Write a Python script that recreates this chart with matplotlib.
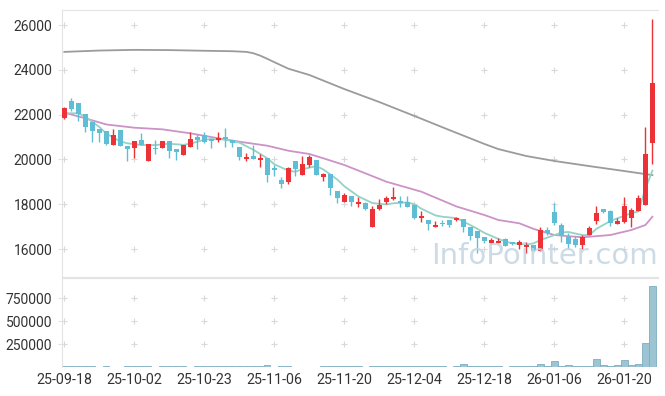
import numpy as np
import matplotlib
matplotlib.use('Agg')
import matplotlib.pyplot as plt

# Daily candles (open, high, low, close)
opens = [21860, 22620, 22520, 22010, 21670, 21360, 21270, 20660, 21310, 20600,
         20520, 20870, 19940, 20500, 20500, 20820, 20480, 20210, 20540, 21010,
         21090, 20900, 20880, 20990, 20850, 20550, 20000, 20150, 19990, 20050,
         19620, 19080, 18980, 19930, 19320, 19740, 19970, 19230, 19360, 18590,
         18110, 18370, 18000, 18050, 17000, 17800, 18110, 18250, 18140, 18110,
         17960, 17380, 17300, 16980, 17170, 17300, 17280, 17340, 17000, 16800,
         16550, 16250, 16280, 16430, 16330, 16170, 16100, 16180, 15920, 16850,
         17670, 17070, 16520, 16450, 16180, 16630, 17250, 17770, 17700, 17120,
         17220, 17370, 17710, 17980, 20720]
highs = [22330, 22750, 22520, 22010, 21670, 21360, 21270, 21340, 21310, 20600,
         20820, 21190, 20670, 20870, 20820, 20820, 20480, 20640, 21210, 21130,
         21210, 20900, 21240, 21420, 20880, 20550, 20270, 20640, 20230, 20050,
         19750, 19230, 19650, 19930, 20150, 20200, 19970, 19380, 19360, 18590,
         18510, 18370, 18310, 18100, 17930, 18230, 18380, 18770, 18380, 18380,
         17960, 17700, 17300, 17250, 17300, 17300, 17440, 17340, 17000, 16800,
         16550, 16500, 16500, 16500, 16330, 16400, 16330, 16180, 17000, 17000,
         18040, 17170, 16700, 16580, 16630, 17030, 17920, 17770, 17740, 17370,
         18340, 17820, 18410, 21460, 26250]
lows = [21800, 22160, 21710, 21240, 20790, 20790, 20640, 20640, 20600, 19940,
        20050, 20640, 19940, 20230, 20500, 20050, 19970, 20210, 20540, 20450,
        20720, 20500, 20790, 20540, 20570, 19970, 19940, 20000, 19670, 19000,
        19260, 18740, 18900, 19260, 19320, 19650, 19320, 19020, 18400, 18070,
        18110, 17920, 17890, 17750, 17000, 17740, 18010, 18200, 17890, 17890,
        17340, 17190, 16850, 16980, 17030, 17000, 17250, 16750, 16400, 15810,
        16250, 16210, 16280, 16150, 16200, 16000, 15840, 15920, 15920, 16630,
        17070, 16330, 16000, 16080, 16000, 16630, 17120, 17590, 17030, 17120,
        17150, 17000, 17710, 17980, 19790]
closes = [22300, 22250, 22010, 21460, 21280, 21190, 20690, 21090, 20600, 20480,
          20820, 20640, 20670, 20470, 20820, 20390, 20340, 20640, 20910, 20870,
          20790, 20840, 20970, 20900, 20720, 20120, 20110, 20030, 20080, 19320,
          19530, 18900, 19620, 19570, 19790, 20090, 19320, 19360, 18740, 18290,
          18410, 18090, 18110, 17770, 17790, 17960, 18290, 18310, 18050, 17890,
          17400, 17470, 17100, 17070, 17130, 17070, 17370, 17000, 16590, 16480,
          16370, 16400, 16370, 16150, 16220, 16310, 16180, 15920, 16850, 16730,
          17150, 16630, 16220, 16180, 16520, 16920, 17590, 17670, 17150, 17260,
          17920, 17740, 18290, 20240, 23400]
volumes = [8000, 8000, 8000, 15000, 8000, 0, 8000, 0, 0, 8000,
           8000, 8000, 8000, 0, 8000, 8000, 8000, 8000, 0, 8000,
           8000, 8000, 8000, 8000, 8000, 15000, 8000, 15000, 8000, 25000,
           0, 8000, 8000, 0, 0, 0, 0, 8000, 15000, 8000,
           8000, 8000, 8000, 0, 8000, 8000, 8000, 8000, 8000, 8000,
           8000, 8000, 8000, 8000, 8000, 0, 8000, 36000, 15000, 8000,
           8000, 8000, 8000, 0, 8000, 8000, 8000, 8000, 36000, 8000,
           65000, 15000, 25000, 8000, 15000, 15000, 84000, 25000, 15000, 25000,
           76000, 25000, 36000, 258000, 884000]

# moving average lines (index, value)
ma5_idx = [0, 2, 3, 5, 6, 8, 9, 11, 13, 15, 17, 18, 20, 21, 23, 25, 27, 29, 30,
           32, 33, 34, 36, 37, 39, 40, 42, 43, 44, 46, 47, 49, 50, 51, 53, 54,
           56, 57, 59, 60, 62, 63, 64, 66, 67, 68, 70, 71, 72, 74, 75, 76, 78,
           79, 81, 82, 83, 84]
ma5_val = [22060, 22060, 21900, 21450, 21150, 20800, 20720, 20640, 20640, 20700,
           20650, 20700, 20880, 20910, 20880, 20750, 20430, 20050, 19780, 19500,
           19450, 19560, 19700, 19550, 19100, 18800, 18350, 18200, 18050, 17990,
           18040, 18080, 18000, 17800, 17500, 17440, 17380, 17230, 16900, 16720,
           16450, 16330, 16260, 16200, 16250, 16400, 16620, 16740, 16760, 16620,
           16620, 16900, 17250, 17370, 17600, 17680, 18690, 19500]
ma20_idx = [0, 3, 6, 10, 14, 18, 22, 25, 29, 32, 35, 37, 40, 43, 46, 51, 56,
            60, 62, 65, 67, 70, 74, 78, 81, 83, 84]
ma20_val = [22085, 21835, 21560, 21415, 21343, 21165, 20942, 20790, 20611, 20388,
            20241, 20049, 19750, 19379, 19004, 18558, 17900, 17518, 17295, 17147,
            16900, 16625, 16522, 16625, 16848, 17071, 17442]
ma60_idx = [0, 5, 10, 15, 20, 24, 26, 27, 28, 29, 30, 32, 35, 40, 45, 50, 55,
            60, 62, 66, 70, 75, 80, 84]
ma60_val = [24800, 24860, 24890, 24880, 24850, 24830, 24800, 24740, 24630, 24490,
            24340, 24050, 23770, 23140, 22560, 21940, 21310, 20690, 20460, 20150,
            19930, 19700, 19480, 19300]

xtick_pos = [0, 10, 20, 30, 40, 50, 60, 70, 80]
xtick_labels = ['25-09-18', '25-10-02', '25-10-23', '25-11-06', '25-11-20',
                '25-12-04', '25-12-18', '26-01-06', '26-01-20']
price_ticks = [16000, 18000, 20000, 22000, 24000, 26000]
vol_ticks = [250000, 500000, 750000]

plt.rcParams['font.family'] = ['Roboto', 'DejaVu Sans']

up_color = '#ec3237'
down_color = '#5fbdd6'
grid_color = '#d9d9d9'
spine_color = '#e3e3e3'

fig = plt.figure(figsize=(6.65, 3.96), dpi=100)
ax = fig.add_axes([62 / 665, (396 - 277) / 396, 596 / 665, 267 / 396])
axv = fig.add_axes([62 / 665, (396 - 367) / 396, 596 / 665, 89 / 396], sharex=ax)

x = np.arange(len(closes))
o = np.array(opens)
c = np.array(closes)
colors = [up_color if cc >= oo else down_color for oo, cc in zip(o, c)]

# moving averages first so candles sit on top
ax.plot(ma60_idx, ma60_val, color='#9b9b9b', lw=1.3, zorder=2)
ax.plot(ma20_idx, ma20_val, color='#cc93c8', lw=1.3, zorder=2)
ax.plot(ma5_idx, ma5_val, color='#93d3c6', lw=1.3, zorder=2)

# candles
ax.vlines(x, lows, highs, colors=colors, lw=1.0, zorder=3)
body = np.maximum(np.abs(c - o), 25)
ax.bar(x, body, bottom=np.minimum(o, c), width=0.72, color=colors, zorder=4)

# volume bars
axv.bar(x, volumes, width=0.9, color='#9dc4d3', edgecolor='#7eadc0', lw=0.6)

# grid drawn as little crosses like the original
gx, gy = np.meshgrid(xtick_pos, price_ticks)
ax.scatter(gx.ravel(), gy.ravel(), marker='+', s=14, color=grid_color, lw=0.8, zorder=1)
gx, gy = np.meshgrid(xtick_pos, vol_ticks)
axv.scatter(gx.ravel(), gy.ravel(), marker='+', s=14, color=grid_color, lw=0.8, zorder=1)

ax.set_xlim(-0.33, 84.8)
ax.set_ylim(14750, 26670)
axv.set_ylim(0, 970000)

ax.set_yticks(price_ticks)
ax.set_yticklabels([str(t) for t in price_ticks])
axv.set_yticks(vol_ticks)
axv.set_yticklabels([str(t) for t in vol_ticks])
axv.set_xticks(xtick_pos)
axv.set_xticklabels(xtick_labels)
ax.tick_params(axis='x', which='both', bottom=False, labelbottom=False)

for a in (ax, axv):
    a.tick_params(axis='y', length=3, color=spine_color, labelsize=10, labelcolor='#333333', pad=4)
    a.spines['right'].set_visible(False)
    for side in ('left', 'top', 'bottom'):
        a.spines[side].set_color(spine_color)
axv.tick_params(axis='x', length=0, labelsize=10.3, labelcolor='#333333', pad=4)
axv.spines['bottom'].set_visible(False)

# watermark
ax.text(0.81, 0.08, 'InfoPointer.com', transform=ax.transAxes, ha='center', va='center',
        fontsize=21, color='#c3d5e1', alpha=0.85, family='DejaVu Sans', zorder=5)

fig.savefig('out.png', dpi=100)
